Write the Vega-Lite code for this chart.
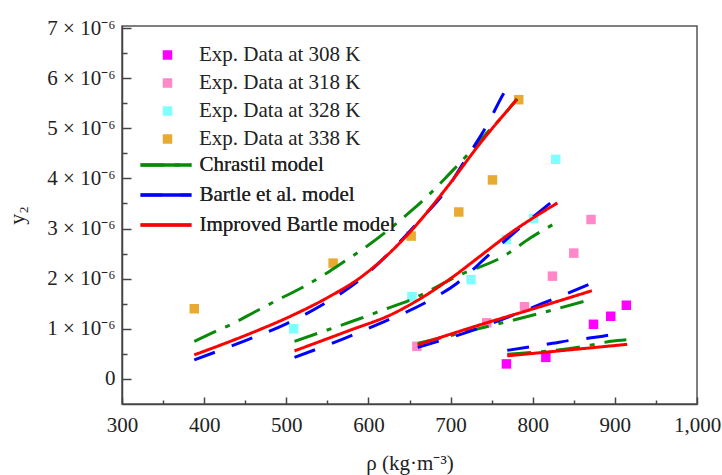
{
  "$schema": "https://vega.github.io/schema/vega-lite/v6.json",
  "width": 575,
  "height": 378,
  "autosize": {"type": "none"},
  "padding": {"left": 122, "top": 26, "right": 25, "bottom": 71},
  "background": "white",
  "config": {
    "view": {"stroke": "#555", "strokeWidth": 1.5},
    "font": "Liberation Serif",
    "axis": {
      "domainColor": "#444", "domainWidth": 1.5,
      "tickColor": "#444", "tickWidth": 1.5,
      "labelFont": "Liberation Serif", "labelFontSize": 21, "labelColor": "#222",
      "titleFont": "Liberation Serif", "titleFontSize": 21, "titleColor": "#222", "titleFontWeight": "normal",
      "grid": false, "labelFlush": false, "labelOverlap": false
    },
    "legend": {
      "labelFont": "Liberation Serif", "labelFontSize": 21, "labelColor": "#222", "labelLimit": 0, "padding": 0, "title": null
    }
  },
  "datasets": {
    "pts": [
      {"rho": 768, "y": 3.0e-7, "series": "Exp. Data at 308 K"},
      {"rho": 816, "y": 4.3e-7, "series": "Exp. Data at 308 K"},
      {"rho": 874, "y": 1.09e-6, "series": "Exp. Data at 308 K"},
      {"rho": 895, "y": 1.25e-6, "series": "Exp. Data at 308 K"},
      {"rho": 914, "y": 1.47e-6, "series": "Exp. Data at 308 K"},
      {"rho": 659, "y": 6.5e-7, "series": "Exp. Data at 318 K"},
      {"rho": 744, "y": 1.12e-6, "series": "Exp. Data at 318 K"},
      {"rho": 790, "y": 1.44e-6, "series": "Exp. Data at 318 K"},
      {"rho": 824, "y": 2.05e-6, "series": "Exp. Data at 318 K"},
      {"rho": 850, "y": 2.51e-6, "series": "Exp. Data at 318 K"},
      {"rho": 871, "y": 3.18e-6, "series": "Exp. Data at 318 K"},
      {"rho": 509, "y": 1.0e-6, "series": "Exp. Data at 328 K"},
      {"rho": 653, "y": 1.64e-6, "series": "Exp. Data at 328 K"},
      {"rho": 725, "y": 1.98e-6, "series": "Exp. Data at 328 K"},
      {"rho": 768, "y": 2.78e-6, "series": "Exp. Data at 328 K"},
      {"rho": 801, "y": 3.2e-6, "series": "Exp. Data at 328 K"},
      {"rho": 828, "y": 4.38e-6, "series": "Exp. Data at 328 K"},
      {"rho": 388, "y": 1.4e-6, "series": "Exp. Data at 338 K"},
      {"rho": 557, "y": 2.31e-6, "series": "Exp. Data at 338 K"},
      {"rho": 652, "y": 2.85e-6, "series": "Exp. Data at 338 K"},
      {"rho": 710, "y": 3.33e-6, "series": "Exp. Data at 338 K"},
      {"rho": 751, "y": 3.97e-6, "series": "Exp. Data at 338 K"},
      {"rho": 783, "y": 5.57e-6, "series": "Exp. Data at 338 K"}
    ],
    "lines": [
      {"rho": 388, "y": 7.5e-7, "model": "Chrastil model", "T": 338},
      {"rho": 414, "y": 9.5e-7, "model": "Chrastil model", "T": 338},
      {"rho": 432, "y": 1.08e-6, "model": "Chrastil model", "T": 338},
      {"rho": 462, "y": 1.34e-6, "model": "Chrastil model", "T": 338},
      {"rho": 490, "y": 1.58e-6, "model": "Chrastil model", "T": 338},
      {"rho": 520, "y": 1.83e-6, "model": "Chrastil model", "T": 338},
      {"rho": 548, "y": 2.1e-6, "model": "Chrastil model", "T": 338},
      {"rho": 562, "y": 2.25e-6, "model": "Chrastil model", "T": 338},
      {"rho": 601, "y": 2.68e-6, "model": "Chrastil model", "T": 338},
      {"rho": 621, "y": 2.93e-6, "model": "Chrastil model", "T": 338},
      {"rho": 652, "y": 3.35e-6, "model": "Chrastil model", "T": 338},
      {"rho": 676, "y": 3.71e-6, "model": "Chrastil model", "T": 338},
      {"rho": 698, "y": 4.08e-6, "model": "Chrastil model", "T": 338},
      {"rho": 720, "y": 4.46e-6, "model": "Chrastil model", "T": 338},
      {"rho": 741, "y": 4.85e-6, "model": "Chrastil model", "T": 338},
      {"rho": 763, "y": 5.23e-6, "model": "Chrastil model", "T": 338},
      {"rho": 781, "y": 5.59e-6, "model": "Chrastil model", "T": 338},
      {"rho": 510, "y": 7.5e-7, "model": "Chrastil model", "T": 328},
      {"rho": 556, "y": 1.01e-6, "model": "Chrastil model", "T": 328},
      {"rho": 589, "y": 1.2e-6, "model": "Chrastil model", "T": 328},
      {"rho": 620, "y": 1.39e-6, "model": "Chrastil model", "T": 328},
      {"rho": 650, "y": 1.57e-6, "model": "Chrastil model", "T": 328},
      {"rho": 712, "y": 2.08e-6, "model": "Chrastil model", "T": 328},
      {"rho": 765, "y": 2.45e-6, "model": "Chrastil model", "T": 328},
      {"rho": 797, "y": 2.81e-6, "model": "Chrastil model", "T": 328},
      {"rho": 830, "y": 3.13e-6, "model": "Chrastil model", "T": 328},
      {"rho": 660, "y": 7.1e-7, "model": "Chrastil model", "T": 318},
      {"rho": 736, "y": 1.01e-6, "model": "Chrastil model", "T": 318},
      {"rho": 809, "y": 1.31e-6, "model": "Chrastil model", "T": 318},
      {"rho": 872, "y": 1.59e-6, "model": "Chrastil model", "T": 318},
      {"rho": 769, "y": 4.9e-7, "model": "Chrastil model", "T": 308},
      {"rho": 866, "y": 6.6e-7, "model": "Chrastil model", "T": 308},
      {"rho": 895, "y": 7.5e-7, "model": "Chrastil model", "T": 308},
      {"rho": 914, "y": 7.8e-7, "model": "Chrastil model", "T": 308},
      {"rho": 388, "y": 3.8e-7, "model": "Bartle et al. model", "T": 338},
      {"rho": 451, "y": 7.7e-7, "model": "Bartle et al. model", "T": 338},
      {"rho": 500, "y": 1.1e-6, "model": "Bartle et al. model", "T": 338},
      {"rho": 545, "y": 1.49e-6, "model": "Bartle et al. model", "T": 338},
      {"rho": 586, "y": 1.93e-6, "model": "Bartle et al. model", "T": 338},
      {"rho": 665, "y": 3.21e-6, "model": "Bartle et al. model", "T": 338},
      {"rho": 692, "y": 3.71e-6, "model": "Bartle et al. model", "T": 338},
      {"rho": 718, "y": 4.37e-6, "model": "Bartle et al. model", "T": 338},
      {"rho": 744, "y": 5.05e-6, "model": "Bartle et al. model", "T": 338},
      {"rho": 766, "y": 5.73e-6, "model": "Bartle et al. model", "T": 338},
      {"rho": 772, "y": 5.88e-6, "model": "Bartle et al. model", "T": 338},
      {"rho": 510, "y": 4.3e-7, "model": "Bartle et al. model", "T": 328},
      {"rho": 571, "y": 8.1e-7, "model": "Bartle et al. model", "T": 328},
      {"rho": 620, "y": 1.15e-6, "model": "Bartle et al. model", "T": 328},
      {"rho": 668, "y": 1.51e-6, "model": "Bartle et al. model", "T": 328},
      {"rho": 708, "y": 1.91e-6, "model": "Bartle et al. model", "T": 328},
      {"rho": 749, "y": 2.51e-6, "model": "Bartle et al. model", "T": 328},
      {"rho": 777, "y": 2.91e-6, "model": "Bartle et al. model", "T": 328},
      {"rho": 829, "y": 3.61e-6, "model": "Bartle et al. model", "T": 328},
      {"rho": 660, "y": 6.3e-7, "model": "Bartle et al. model", "T": 318},
      {"rho": 716, "y": 9.1e-7, "model": "Bartle et al. model", "T": 318},
      {"rho": 823, "y": 1.58e-6, "model": "Bartle et al. model", "T": 318},
      {"rho": 872, "y": 1.91e-6, "model": "Bartle et al. model", "T": 318},
      {"rho": 769, "y": 5.7e-7, "model": "Bartle et al. model", "T": 308},
      {"rho": 824, "y": 7.1e-7, "model": "Bartle et al. model", "T": 308},
      {"rho": 846, "y": 7.7e-7, "model": "Bartle et al. model", "T": 308},
      {"rho": 876, "y": 8.3e-7, "model": "Bartle et al. model", "T": 308},
      {"rho": 901, "y": 9.0e-7, "model": "Bartle et al. model", "T": 308},
      {"rho": 388, "y": 4.8e-7, "model": "Improved Bartle model", "T": 338},
      {"rho": 452, "y": 8.8e-7, "model": "Improved Bartle model", "T": 338},
      {"rho": 505, "y": 1.25e-6, "model": "Improved Bartle model", "T": 338},
      {"rho": 550, "y": 1.62e-6, "model": "Improved Bartle model", "T": 338},
      {"rho": 590, "y": 2.02e-6, "model": "Improved Bartle model", "T": 338},
      {"rho": 617, "y": 2.38e-6, "model": "Improved Bartle model", "T": 338},
      {"rho": 655, "y": 3.01e-6, "model": "Improved Bartle model", "T": 338},
      {"rho": 696, "y": 3.83e-6, "model": "Improved Bartle model", "T": 338},
      {"rho": 736, "y": 4.7e-6, "model": "Improved Bartle model", "T": 338},
      {"rho": 781, "y": 5.58e-6, "model": "Improved Bartle model", "T": 338},
      {"rho": 510, "y": 5.6e-7, "model": "Improved Bartle model", "T": 328},
      {"rho": 574, "y": 9.5e-7, "model": "Improved Bartle model", "T": 328},
      {"rho": 631, "y": 1.31e-6, "model": "Improved Bartle model", "T": 328},
      {"rho": 668, "y": 1.65e-6, "model": "Improved Bartle model", "T": 328},
      {"rho": 704, "y": 2.05e-6, "model": "Improved Bartle model", "T": 328},
      {"rho": 736, "y": 2.45e-6, "model": "Improved Bartle model", "T": 328},
      {"rho": 773, "y": 2.91e-6, "model": "Improved Bartle model", "T": 328},
      {"rho": 830, "y": 3.51e-6, "model": "Improved Bartle model", "T": 328},
      {"rho": 660, "y": 6.8e-7, "model": "Improved Bartle model", "T": 318},
      {"rho": 736, "y": 1.08e-6, "model": "Improved Bartle model", "T": 318},
      {"rho": 797, "y": 1.38e-6, "model": "Improved Bartle model", "T": 318},
      {"rho": 872, "y": 1.76e-6, "model": "Improved Bartle model", "T": 318},
      {"rho": 769, "y": 4.6e-7, "model": "Improved Bartle model", "T": 308},
      {"rho": 915, "y": 6.9e-7, "model": "Improved Bartle model", "T": 308}
    ]
  },
  "encoding": {
    "x": {
      "field": "rho", "type": "quantitative",
      "scale": {"domain": [300, 1000], "nice": false, "zero": false},
      "axis": {
        "title": "ρ (kg·m⁻³)",
        "values": [300, 350, 400, 450, 500, 550, 600, 650, 700, 750, 800, 850, 900, 950, 1000],
        "labelExpr": "datum.value % 100 === 0 ? format(datum.value, ',') : ''",
        "tickSize": {"condition": {"test": "datum.value % 100 !== 0", "value": -4}, "value": -7},
        "labelPadding": 17,
        "titlePadding": 14
      }
    },
    "y": {
      "field": "y", "type": "quantitative",
      "scale": {"domain": [-5e-7, 7.04e-6], "nice": false, "zero": false},
      "axis": {
        "title": "y₂",
        "titleFontSize": 22,
        "labelFontSize": 21,
        "values": [0, 5e-7, 1e-6, 1.5e-6, 2e-6, 2.5e-6, 3e-6, 3.5e-6, 4e-6, 4.5e-6, 5e-6, 5.5e-6, 6e-6, 6.5e-6, 7e-6],
        "labelExpr": "datum.value === 0 ? '0' : (abs(datum.value*1e6 - round(datum.value*1e6)) > 0.1 ? '' : format(round(datum.value*1e6), 'd') + ' × 10⁻⁶')",
        "tickSize": {"condition": {"test": "abs(datum.value*1e6 - round(datum.value*1e6)) > 0.1", "value": -5}, "value": -9},
        "labelPadding": 16,
        "titlePadding": 18
      }
    }
  },
  "layer": [
    {
      "data": {"name": "pts"},
      "mark": {"type": "square", "size": 90, "opacity": 1},
      "encoding": {
        "color": {
          "field": "series", "type": "nominal",
          "scale": {
            "domain": ["Exp. Data at 308 K", "Exp. Data at 318 K", "Exp. Data at 328 K", "Exp. Data at 338 K"],
            "range": ["#FF00FF", "#FF88C8", "#80FFFF", "#E8AA30"]
          },
          "legend": {
            "orient": "none", "legendX": 35, "legendY": 18.5, "symbolType": "square", "symbolSize": 90,
            "symbolOpacity": 1, "rowPadding": 6, "labelOffset": 21, "labelLimit": 0, "title": null
          }
        }
      }
    },
    {
      "data": {"name": "lines"},
      "mark": {"type": "line", "strokeWidth": 3, "interpolate": "monotone", "strokeCap": "butt"},
      "encoding": {
        "color": {
          "field": "model", "type": "nominal",
          "scale": {
            "domain": ["Chrastil model", "Bartle et al. model", "Improved Bartle model"],
            "range": ["#0A8A0A", "#0000FF", "#FF0000"]
          },
          "legend": {
            "orient": "none", "legendX": 16.5, "legendY": 128.5, "symbolType": "stroke", "symbolSize": 2600,
            "symbolStrokeWidth": 3.5, "clipHeight": 21, "rowPadding": 8, "labelOffset": 6, "labelLimit": 0, "title": null
          }
        },
        "strokeDash": {
          "field": "model", "type": "nominal",
          "scale": {
            "domain": ["Chrastil model", "Bartle et al. model", "Improved Bartle model"],
            "range": [[24, 10, 5, 10], [22, 18], [1, 0]]
          },
          "legend": {
            "orient": "none", "legendX": 16.5, "legendY": 128.5, "symbolType": "stroke", "symbolSize": 2600,
            "symbolStrokeWidth": 3.5, "clipHeight": 21, "rowPadding": 8, "labelOffset": 6, "labelLimit": 0, "title": null
          }
        },
        "detail": {"field": "T"}
      }
    }
  ],
  "resolve": {"scale": {"color": "independent"}}
}
